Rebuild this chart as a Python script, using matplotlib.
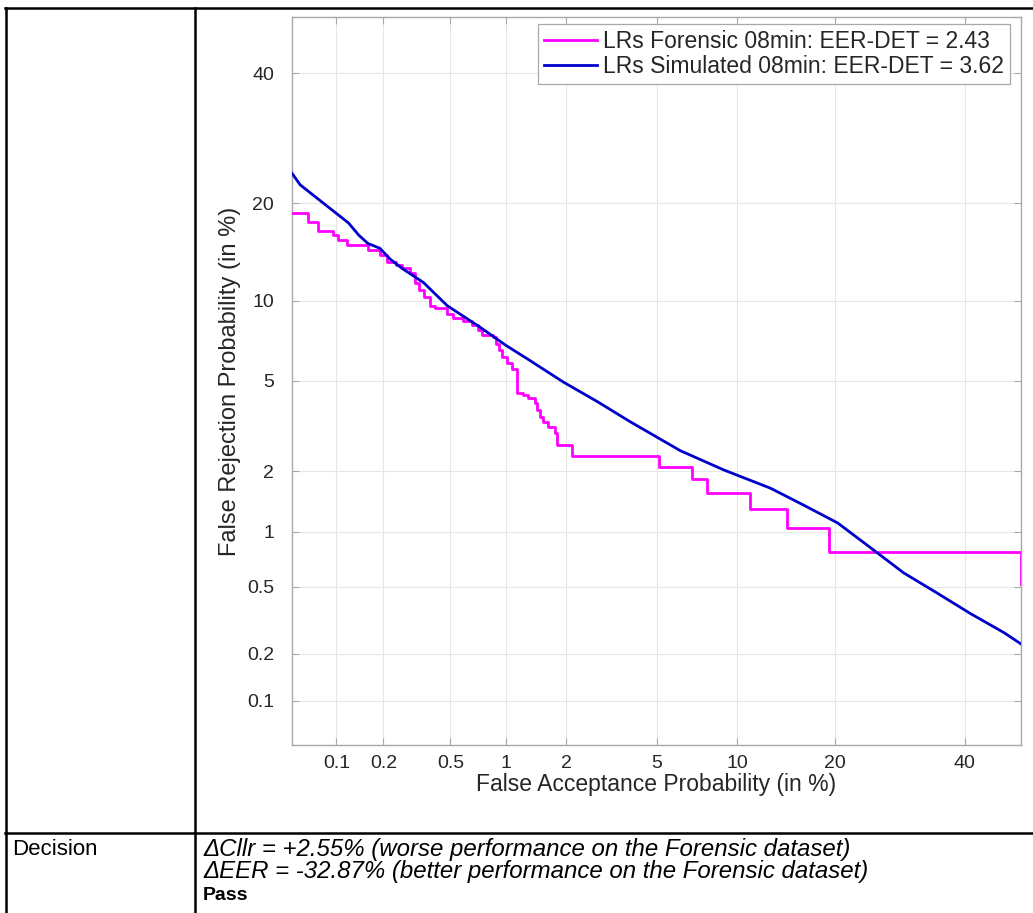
import math
import numpy as np
import matplotlib
matplotlib.use("Agg")
import matplotlib.pyplot as plt
from matplotlib.lines import Line2D

# ---------------- data (percent) ----------------
fa_forensic = [0.05, 0.064, 0.075, 0.095, 0.103, 0.118, 0.16, 0.19, 0.21, 0.24,
               0.26, 0.29, 0.31, 0.33, 0.35, 0.38, 0.41, 0.48, 0.52, 0.59,
               0.66, 0.71, 0.75, 0.86, 0.89, 0.92, 0.96, 1.02, 1.08, 1.15,
               1.23, 1.31, 1.42, 1.45, 1.50, 1.55, 1.64, 1.78, 1.82, 2.14,
               5.1, 6.9, 7.8, 11.1, 14.5, 19.3, 50.0, 50.0]
fr_forensic = [18.8, 17.7, 16.7, 16.2, 15.7, 15.1, 14.6, 14.1, 13.4, 13.1,
               12.8, 12.4, 11.5, 10.9, 10.3, 9.6, 9.4, 9.0, 8.7, 8.5,
               8.2, 7.85, 7.5, 7.4, 7.0, 6.6, 6.2, 5.9, 5.6, 4.46,
               4.37, 4.25, 4.05, 3.78, 3.53, 3.36, 3.19, 3.0, 2.65, 2.36,
               2.10, 1.84, 1.57, 1.31, 1.04, 0.78, 0.78, 0.52]

fa_simulated = [0.05, 0.057, 0.082, 0.12, 0.14, 0.16, 0.19, 0.22, 0.26, 0.35,
                0.48, 0.73, 1.0, 1.3, 1.94, 2.8, 3.9, 6.2, 9.0, 12.9,
                16.3, 20.4, 24.9, 29.8, 35.3, 41.0, 46.9, 50.0]
fr_simulated = [24.0, 22.4, 20.0, 17.6, 16.2, 15.3, 14.8, 13.7, 12.8, 11.5,
                9.6, 8.05, 6.9, 6.1, 4.95, 4.1, 3.36, 2.5, 2.03, 1.66,
                1.37, 1.11, 0.82, 0.60, 0.46, 0.35, 0.27, 0.23]

tick_values = [0.1, 0.2, 0.5, 1, 2, 5, 10, 20, 40]
tick_labels = ["0.1", "0.2", "0.5", "1", "2", "5", "10", "20", "40"]
axis_limits = (0.05, 50)
legend_labels = ["LRs Forensic 08min: EER-DET = 2.43",
                 "LRs Simulated 08min: EER-DET = 3.62"]
x_label = "False Acceptance Probability (in %)"
y_label = "False Rejection Probability (in %)"
row_label = "Decision"
decision_lines = ["ΔCllr = +2.55% (worse performance on the Forensic dataset)",
                  "ΔEER = -32.87% (better performance on the Forensic dataset)"]
decision_result = "Pass"

# ---------------- probit scale helpers ----------------
_a = [-3.969683028665376e+01, 2.209460984245205e+02, -2.759285104469687e+02,
      1.383577518672690e+02, -3.066479806614716e+01, 2.506628277459239e+00]
_b = [-5.447609879822406e+01, 1.615858368580409e+02, -1.556989798598866e+02,
      6.680131188771972e+01, -1.328068155288572e+01]
_c = [-7.784894002430293e-03, -3.223964580411365e-01, -2.400758277161838e+00,
      -2.549732539343734e+00, 4.374664141464968e+00, 2.938163982698783e+00]
_d = [7.784695709041462e-03, 3.224671290700398e-01, 2.445134137142996e+00,
      3.754408661907416e+00]


def _ppf_scalar(p):
    p = min(max(p, 1e-12), 1 - 1e-12)
    plow = 0.02425
    if p < plow:
        q = math.sqrt(-2 * math.log(p))
        return ((((((_c[0]*q + _c[1])*q + _c[2])*q + _c[3])*q + _c[4])*q + _c[5]) /
                ((((_d[0]*q + _d[1])*q + _d[2])*q + _d[3])*q + 1))
    if p > 1 - plow:
        q = math.sqrt(-2 * math.log(1 - p))
        return -((((((_c[0]*q + _c[1])*q + _c[2])*q + _c[3])*q + _c[4])*q + _c[5]) /
                 ((((_d[0]*q + _d[1])*q + _d[2])*q + _d[3])*q + 1))
    q = p - 0.5
    r = q * q
    return ((((((_a[0]*r + _a[1])*r + _a[2])*r + _a[3])*r + _a[4])*r + _a[5]) * q /
            (((((_b[0]*r + _b[1])*r + _b[2])*r + _b[3])*r + _b[4])*r + 1))


_ppf_vec = np.vectorize(_ppf_scalar, otypes=[float])
_erf_vec = np.vectorize(math.erf, otypes=[float])


def pct_to_probit(v):
    v = np.asarray(v, dtype=float)
    return _ppf_vec(v / 100.0)


def probit_to_pct(z):
    z = np.asarray(z, dtype=float)
    return 100.0 * 0.5 * (1.0 + _erf_vec(z / math.sqrt(2.0)))


# ---------------- figure ----------------
W, H = 1033, 913
fig = plt.figure(figsize=(W / 100, H / 100), dpi=100)
fig.patch.set_facecolor("white")

FONT = ["Liberation Sans", "DejaVu Sans"]
plt.rcParams["font.family"] = FONT

ax_l, ax_r, ax_t, ax_b = 292, 1021, 17, 745
ax = fig.add_axes([ax_l / W, 1 - ax_b / H, (ax_r - ax_l) / W, (ax_b - ax_t) / H])

ax.set_xscale("function", functions=(pct_to_probit, probit_to_pct))
ax.set_yscale("function", functions=(pct_to_probit, probit_to_pct))

ax.plot(fa_forensic, fr_forensic, drawstyle="steps-post", color="#FF00FF",
        lw=2.0, label=legend_labels[0], zorder=3)
ax.plot(fa_simulated, fr_simulated, color="#0000CC", lw=2.0,
        label=legend_labels[1], zorder=4)

ax.set_xlim(*axis_limits)
ax.set_ylim(*axis_limits)
ax.set_xticks(tick_values)
ax.set_xticklabels(tick_labels)
ax.set_yticks(tick_values)
ax.set_yticklabels(tick_labels)
ax.minorticks_off()

ax.grid(True, color="#e6e6e6", linewidth=0.8)
ax.set_axisbelow(True)
for s in ax.spines.values():
    s.set_color("#a8a8a8")
    s.set_linewidth(1.0)
ax.tick_params(direction="in", length=5, width=0.8, color="#a8a8a8",
               top=True, right=True, labelsize=14, labelcolor="#262626")
ax.tick_params(axis="x", pad=7)
ax.tick_params(axis="y", pad=13)

ax.set_xlabel(x_label, fontsize=16.5, color="#262626", labelpad=1)
ax.set_ylabel(y_label, fontsize=17, color="#262626", labelpad=4)

leg = ax.legend(loc="upper right",
                bbox_to_anchor=(1 - 11 / (ax_r - ax_l), 1 - 7 / (ax_b - ax_t)),
                borderaxespad=0, fontsize=16.5, frameon=True, fancybox=False,
                framealpha=1, edgecolor="#a8a8a8", handlelength=2.3,
                handletextpad=0.3, borderpad=0.25, labelspacing=0.12)
leg.get_frame().set_linewidth(0.9)
for t in leg.get_texts():
    t.set_color("#262626")


# ---------------- surrounding table ----------------
def fx(px):
    return px / W


def fy(py):
    return 1 - py / H


lw_tab = 1.8
for (x0, y0, x1, y1) in [(5, 8, 1033, 8), (5, 833, 1033, 833),
                         (6, 8, 6, 913), (195, 8, 195, 913)]:
    fig.add_artist(Line2D([fx(x0), fx(x1)], [fy(y0), fy(y1)],
                          transform=fig.transFigure, color="black",
                          lw=lw_tab, solid_capstyle="projecting"))

fig.text(fx(12), fy(855), row_label, fontsize=16, va="baseline", ha="left",
         color="black")
fig.text(fx(203), fy(856), decision_lines[0], fontsize=17.3, style="italic",
         va="baseline", ha="left", color="black")
fig.text(fx(203), fy(878), decision_lines[1], fontsize=17.3, style="italic",
         va="baseline", ha="left", color="black")
fig.text(fx(203), fy(900), decision_result, fontsize=14, weight="bold",
         va="baseline", ha="left", color="black")

fig.savefig("out.png", dpi=100, facecolor="white")
